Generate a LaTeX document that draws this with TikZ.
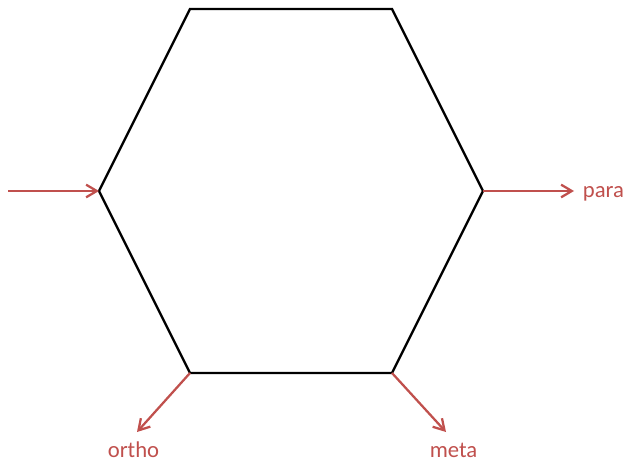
\documentclass[tikz,border=0pt]{standalone}
\usepackage{fontspec}
\setmainfont{Carlito}
\usetikzlibrary{arrows.meta}
\definecolor{redarrow}{HTML}{C0504D}
\tikzset{
  x=0.75pt,y=-0.75pt,
  hexline/.style={draw=black,line width=1.8pt,line join=miter},
  vertex/.style={coordinate},
  subst/.style={draw=redarrow,line width=1.7pt,-{Straight Barb[length=8pt,width=9.5pt,line width=1.7pt]}},
  lbl/.style={text=redarrow,font=\fontsize{17pt}{20pt}\selectfont,inner sep=0pt,anchor=base}
}
\begin{document}
\begin{tikzpicture}
\useasboundingbox (0,0) rectangle (624,459);
\coordinate[vertex] (a) at (190,9);
\coordinate[vertex] (b) at (392,9);
\coordinate[vertex] (c) at (483,191);
\coordinate[vertex] (d) at (392,373);
\coordinate[vertex] (e) at (190,373);
\coordinate[vertex] (f) at (99,191);
\coordinate (in) at (8,191);
\coordinate (paraend) at (574,191);
\coordinate (orthoend) at (137,432);
\coordinate (metaend) at (446,432);
\node[lbl] (para) at (603.5,197.5) {para};
\node[lbl] (ortho) at (133.5,457.5) {ortho};
\node[lbl] (meta) at (453.5,457.5) {meta};
\draw[hexline] (a) -- (b) -- (c) -- (d) -- (e) -- (f) -- cycle;
\draw[subst] (in) -- (f);
\draw[subst] (c) -- (paraend);
\draw[subst] (e) -- (orthoend);
\draw[subst] (d) -- (metaend);
\end{tikzpicture}
\end{document}
